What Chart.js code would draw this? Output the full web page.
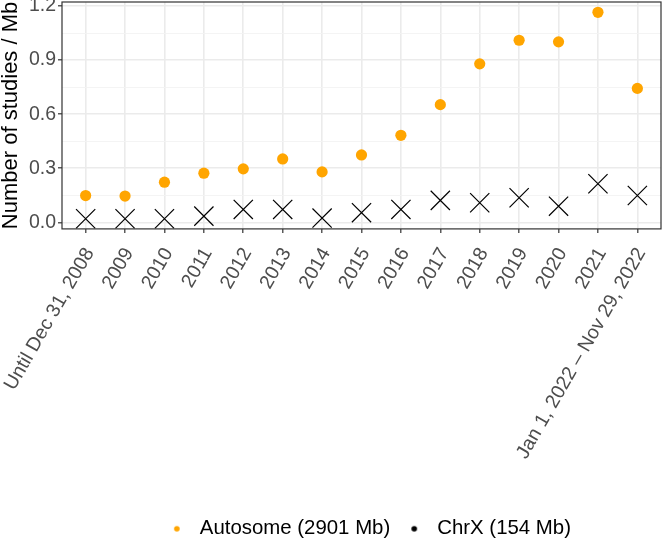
<!DOCTYPE html>
<html>
<head>
<meta charset="utf-8">
<script src="https://cdn.jsdelivr.net/npm/chart.js@4.4.1/dist/chart.umd.min.js"></script>
<style>
  html, body { margin: 0; padding: 0; background: #fff; }
  canvas { display: block; }
</style>
</head>
<body>
<canvas id="chart" width="663" height="541"></canvas>
<script>
/* === Data === */
const periods = ['Until Dec 31, 2008', '2009', '2010', '2011', '2012', '2013', '2014', '2015',
  '2016', '2017', '2018', '2019', '2020', '2021', 'Jan 1, 2022 \u2013 Nov 29, 2022'];
const autosome = [0.149, 0.146, 0.223, 0.273, 0.297, 0.352, 0.280, 0.374, 0.483, 0.653, 0.879, 1.010, 1.001, 1.165, 0.743];
const chrX = [0.020, 0.020, 0.020, 0.035, 0.072, 0.072, 0.024, 0.054, 0.072, 0.122, 0.109, 0.137, 0.090, 0.214, 0.149];
const seriesNames = ['Autosome (2901 Mb)', 'ChrX (154 Mb)'];
const yMajor = [0, 0.3, 0.6, 0.9, 1.2];
const yMinor = [0.15, 0.45, 0.75, 1.05];

const FONT = "'Liberation Sans', Arial, Helvetica, sans-serif";
const ORANGE = '#FFA500';
const isMajor = v => yMajor.some(m => Math.abs(m - v) < 1e-6);

// small dot used as legend key (ggplot draws the keys much smaller than the points)
function legendDot(color) {
  const c = document.createElement('canvas');
  c.width = 8; c.height = 8;
  const g = c.getContext('2d');
  g.fillStyle = color;
  g.beginPath();
  g.arc(4, 4, 2.8, 0, Math.PI * 2);
  g.fill();
  return c;
}

// panel border around the plot area, legend nudged to match the original
const panelBorder = {
  id: 'panelBorder',
  afterLayout(chart) {
    chart.legend.left += 6;
    chart.legend.right += 6;
  },
  afterDatasetsDraw(chart) {
    const { ctx, chartArea: a } = chart;
    ctx.save();
    ctx.strokeStyle = '#333333';
    ctx.lineWidth = 1.2;
    ctx.strokeRect(a.left, a.top, a.right - a.left, a.bottom - a.top);
    ctx.restore();
  }
};

new Chart(document.getElementById('chart'), {
  type: 'scatter',
  data: {
    datasets: [
      {
        label: seriesNames[0],
        data: autosome.map((v, i) => ({ x: i, y: v })),
        pointStyle: 'circle',
        pointRadius: 5.6,
        backgroundColor: ORANGE,
        borderWidth: 0
      },
      {
        label: seriesNames[1],
        data: chrX.map((v, i) => ({ x: i, y: v })),
        pointStyle: 'crossRot',
        pointRadius: 13.6,
        borderColor: '#000',
        backgroundColor: '#000',
        borderWidth: 1.2
      }
    ]
  },
  options: {
    responsive: false,
    devicePixelRatio: 1,
    animation: false,
    layout: { autoPadding: false, padding: { top: 2, right: 2, left: 0, bottom: -8 } },
    scales: {
      x: {
        type: 'linear',
        min: -0.6,
        max: 14.6,
        afterBuildTicks: s => { s.ticks = periods.map((p, i) => ({ value: i })); },
        afterFit: s => { s.height = 278.5; s.paddingLeft = 0; s.paddingRight = 0; },
        border: { display: false },
        grid: { color: '#EBEBEB', lineWidth: 1.6, tickLength: 4, tickColor: '#333333', tickWidth: 1.2 },
        ticks: {
          autoSkip: false, minRotation: 60, maxRotation: 60, padding: 11, labelOffset: 4,
          color: '#4D4D4D', font: { size: 19.5, family: FONT },
          callback: v => periods[v]
        }
      },
      y: {
        min: -0.036,
        max: 1.222,
        afterBuildTicks: s => { s.ticks = yMinor.concat(yMajor).sort((a, b) => a - b).map(v => ({ value: v })); },
        afterFit: s => { s.width = 62; s.paddingTop = 0; s.paddingBottom = 0; },
        border: { display: false },
        grid: {
          color: c => isMajor(c.tick.value) ? '#EBEBEB' : '#F3F3F3',
          lineWidth: c => isMajor(c.tick.value) ? 1.6 : 0.9,
          tickLength: 4,
          tickColor: c => isMajor(c.tick.value) ? '#333333' : 'rgba(0,0,0,0)',
          tickWidth: 1.2
        },
        ticks: {
          padding: 2, color: '#4D4D4D', font: { size: 19.5, family: FONT },
          callback: v => isMajor(v) ? v.toFixed(1) : ''
        },
        title: {
          display: true, text: 'Number of studies / Mb', color: '#000',
          font: { size: 22, family: FONT, lineHeight: 1 }, padding: { top: 0, bottom: 0 }
        }
      }
    },
    plugins: {
      tooltip: { enabled: false },
      legend: {
        position: 'bottom',
        fullSize: false,
        labels: {
          usePointStyle: true, pointStyleWidth: 25.6, boxHeight: 4, padding: 11.2,
          color: '#000', font: { size: 20.4, family: FONT },
          generateLabels: chart => chart.data.datasets.map((d, i) => ({
            text: d.label,
            fillStyle: i === 0 ? ORANGE : '#000',
            strokeStyle: i === 0 ? ORANGE : '#000',
            lineWidth: 0,
            pointStyle: legendDot(i === 0 ? ORANGE : '#000'),
            hidden: false,
            datasetIndex: i
          }))
        }
      }
    }
  },
  plugins: [panelBorder]
});
</script>
</body>
</html>
